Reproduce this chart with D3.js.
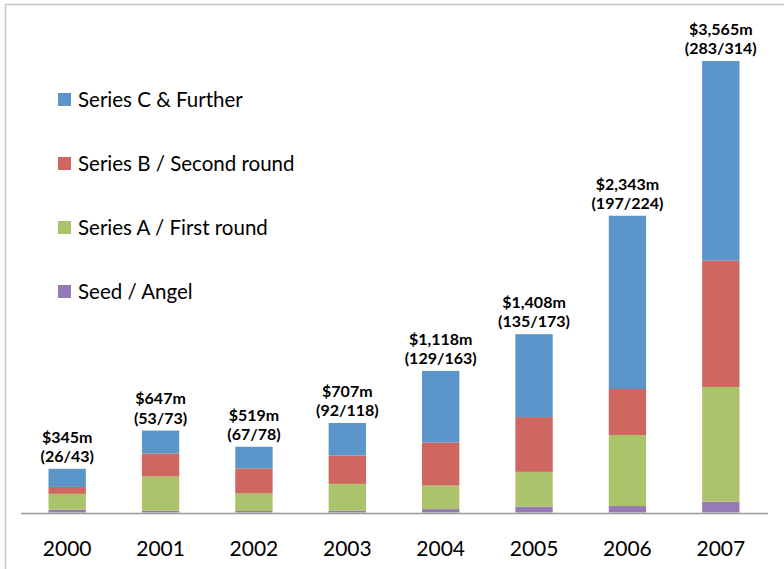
<!DOCTYPE html>
<html>
<head>
<meta charset="utf-8">
<script src="https://cdn.jsdelivr.net/npm/d3@7"></script>
<style>
  body { margin: 0; background: #fff; }
  svg { display: block; }
  text { font-family: Lato, "Open Sans", sans-serif; fill: #000; }
</style>
</head>
<body>
<div id="chart"></div>
<script>
// venture funding by year, stacked by round ($m)
const years = ["2000", "2001", "2002", "2003", "2004", "2005", "2006", "2007"];
const seedAngel = [21, 13, 12, 13, 27, 47, 51, 85];
const seriesA = [126, 271, 139, 213, 186, 274, 561, 906];
const seriesB = [55, 182, 197, 224, 340, 432, 363, 998];
const seriesC = [143, 181, 171, 257, 565, 655, 1368, 1576];
const totalLabels = ["$345m", "$647m", "$519m", "$707m", "$1,118m", "$1,408m", "$2,343m", "$3,565m"];
const dealLabels = ["(26/43)", "(53/73)", "(67/78)", "(92/118)", "(129/163)", "(135/173)", "(197/224)", "(283/314)"];

const seriesNames = ["Seed / Angel", "Series A / First round", "Series B / Second round", "Series C & Further"];
const seriesColors = ["#957ab5", "#abc46b", "#cf6660", "#5b95c9"];

const width = 784, height = 569;
const baseY = 512.5, topY = 61;

const svg = d3.select("#chart")
    .append("svg")
    .attr("width", width)
    .attr("height", height);

// outer frame (cut off on right / bottom)
svg.append("path")
    .attr("d", `M5.5,${height} V4.5 H${width}`)
    .attr("fill", "none")
    .attr("stroke", "#c8c8c8")
    .attr("stroke-width", 1.5);

// build rows for stacking
const rows = years.map((y, i) => ({
    year: y,
    s0: seedAngel[i], s1: seriesA[i], s2: seriesB[i], s3: seriesC[i]
}));
const stack = d3.stack().keys(["s0", "s1", "s2", "s3"])(rows);

let x = d3.scaleBand()
    .domain(years)
    .range([20.5, 767.5])
    .paddingInner(0.6)
    .paddingOuter(0.3);

let y = d3.scaleLinear()
    .domain([0, 3565])
    .range([baseY, topY]);

// bars
svg.append("g")
    .selectAll("g")
    .data(stack)
    .join("g")
    .attr("fill", (d, i) => seriesColors[i])
    .selectAll("rect")
    .data(d => d)
    .join("rect")
    .attr("x", d => x(d.data.year))
    .attr("y", d => y(d[1]))
    .attr("width", x.bandwidth())
    .attr("height", d => y(d[0]) - y(d[1]));

// x axis
const xAxis = svg.append("g")
    .attr("transform", `translate(0,${baseY + 0.5})`)
    .call(d3.axisBottom(x).tickSize(0).tickPadding(28).tickSizeOuter(0));
xAxis.select(".domain").attr("stroke", "#9a9a9a").attr("stroke-width", 1.3);
xAxis.selectAll("text")
    .style("font-family", "Lato, sans-serif")
    .style("font-size", "21px")
    .attr("fill", "#000");

// totals above bars
const totals = years.map((yr, i) => seedAngel[i] + seriesA[i] + seriesB[i] + seriesC[i]);
const labels = svg.append("g")
    .selectAll("text")
    .data(years)
    .join("text")
    .attr("text-anchor", "middle")
    .attr("x", d => x(d) + x.bandwidth() / 2)
    .attr("y", (d, i) => y(totals[i]) - 7)
    .style("font-size", "16px")
    .style("font-weight", "bold");
labels.append("tspan")
    .attr("x", d => x(d) + x.bandwidth() / 2)
    .attr("dy", "-1.2em")
    .text((d, i) => totalLabels[i]);
labels.append("tspan")
    .attr("x", d => x(d) + x.bandwidth() / 2)
    .attr("dy", "1.2em")
    .text((d, i) => dealLabels[i]);

// legend, reversed order
const legendItems = seriesNames.map((n, i) => ({ name: n, color: seriesColors[i] })).reverse();
const legend = svg.append("g")
    .selectAll("g")
    .data(legendItems)
    .join("g")
    .attr("transform", (d, i) => `translate(58,${100 + i * 64})`);
legend.append("rect")
    .attr("x", 0)
    .attr("y", -7)
    .attr("width", 13)
    .attr("height", 13)
    .attr("fill", d => d.color);
legend.append("text")
    .attr("x", 20)
    .attr("y", 7)
    .style("font-size", "20.5px")
    .text(d => d.name);
</script>
</body>
</html>
